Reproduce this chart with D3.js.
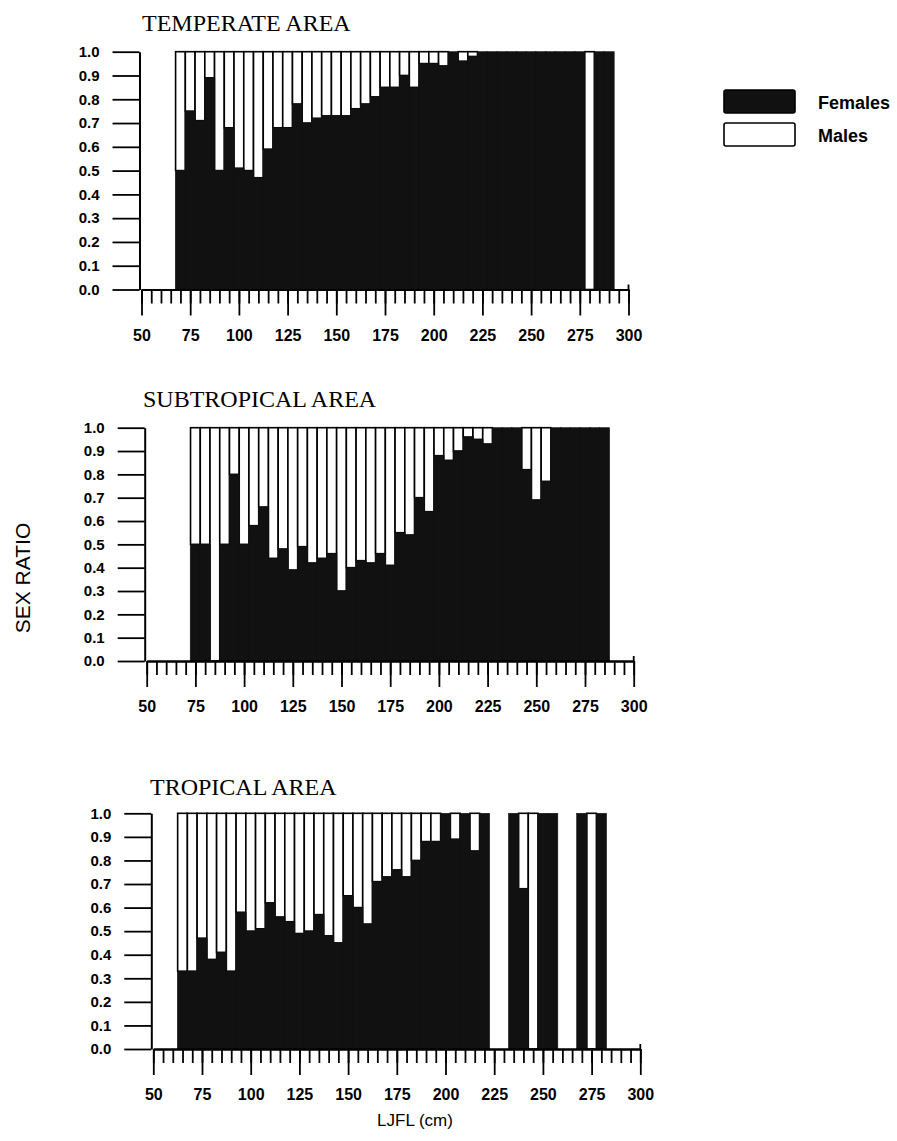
<!DOCTYPE html>
<html>
<head>
<meta charset="utf-8">
<script src="https://cdn.jsdelivr.net/npm/d3@7"></script>
<style>
body{margin:0;background:#fff;}
svg{display:block;}
</style>
</head>
<body>
<div id="graph"></div>
<script>
//data: length classes (LJFL, cm) = bin centres, female share per class (null = no fish)
var lengthClass=[65,70,75,80,85,90,95,100,105,110,115,120,125,130,135,140,145,150,155,160,
  165,170,175,180,185,190,195,200,205,210,215,220,225,230,235,240,245,250,255,260,
  265,270,275,280,285,290];

var temperateFemale=[null,0.50,0.75,0.71,0.89,0.50,0.68,0.51,0.50,0.47,0.59,0.68,0.68,0.78,0.70,0.72,0.73,0.73,0.73,0.76,
  0.78,0.81,0.85,0.85,0.90,0.85,0.95,0.95,0.94,1.00,0.96,0.98,1.00,1.00,1.00,1.00,1.00,1.00,1.00,1.00,
  1.00,1.00,1.00,0,1.00,1.00];

var subtropicalFemale=[null,null,0.50,0.50,0,0.50,0.80,0.50,0.58,0.66,0.44,0.48,0.39,0.49,0.42,0.44,0.46,0.30,0.40,0.43,
  0.42,0.46,0.41,0.55,0.54,0.70,0.64,0.88,0.86,0.90,0.96,0.95,0.93,1.00,1.00,1.00,0.82,0.69,0.77,1.00,
  1.00,1.00,1.00,1.00,1.00,null];

var tropicalFemale=[0.33,0.33,0.47,0.38,0.41,0.33,0.58,0.50,0.51,0.62,0.56,0.54,0.49,0.50,0.57,0.48,0.45,0.65,0.60,0.53,
  0.71,0.73,0.76,0.73,0.80,0.88,0.88,1.00,0.89,1.00,0.84,1.00,null,null,1.00,0.68,0,1.00,1.00,null,
  null,1.00,0,1.00,null,null];

var panelTitles=["TEMPERATE AREA","SUBTROPICAL AREA","TROPICAL AREA"];
var yTickValues=[0,0.1,0.2,0.3,0.4,0.5,0.6,0.7,0.8,0.9,1.0];
var xTickLabels=[50,75,100,125,150,175,200,225,250,275,300];
var legendNames=["Females","Males"];
var legendColors=["#111","#fff"];

var femaleSeries=[temperateFemale,subtropicalFemale,tropicalFemale];

//layout of the three panels (pixels)
var layout=[
  {x0:141.5,top:51.7,bottom:289.5,titleX:142,titleY:31},
  {x0:146.7,top:427.7,bottom:661,titleX:143,titleY:407},
  {x0:153.3,top:813.3,bottom:1049,titleX:150,titleY:795}
];

var width=897, height=1141;
var dark="#111";

var svg=d3.select("div#graph")
          .append("svg")
          .attr("width",width)
          .attr("height",height);

layout.forEach(function(p,k){
  var g=svg.append("g");
  var x=d3.scaleLinear().domain([50,300]).range([p.x0,p.x0+487]);
  var y=d3.scaleLinear().domain([0,1]).range([p.bottom,p.top]);
  var binW=x(55)-x(50);

  var rows=lengthClass.map(function(c,i){return {c:c,f:femaleSeries[k][i]};})
                      .filter(function(d){return d.f!==null;});

  //males (white boxes, top part)
  g.selectAll("rect.male")
    .data(rows.filter(function(d){return d.f<1;}))
    .enter()
    .append("rect")
    .attr("class","male")
    .attr("x",function(d){return x(d.c-2.5);})
    .attr("y",y(1))
    .attr("width",binW)
    .attr("height",function(d){return y(d.f)-y(1);})
    .attr("fill","#fff")
    .attr("stroke","#000")
    .attr("stroke-width",1.6);

  //females (dark, bottom part)
  g.selectAll("rect.female")
    .data(rows.filter(function(d){return d.f>0;}))
    .enter()
    .append("rect")
    .attr("class","female")
    .attr("x",function(d){return x(d.c-2.5)-0.3;})
    .attr("y",function(d){return y(d.f);})
    .attr("width",binW+0.6)
    .attr("height",function(d){return y(0)-y(d.f);})
    .attr("fill",dark)
    .attr("stroke",dark)
    .attr("stroke-width",0.6);

  //y axis
  var yAxis=g.append("g")
    .attr("transform","translate("+(p.x0-2)+",0)")
    .call(d3.axisLeft(y).tickValues(yTickValues).tickSize(27).tickSizeOuter(0)
           .tickPadding(13).tickFormat(d3.format(".1f")));

  //x axis: minor ticks every 5 cm, long ticks with labels every 25 cm
  var xMinor=g.append("g")
    .attr("transform","translate(0,"+p.bottom+")")
    .call(d3.axisBottom(x).tickValues(d3.range(50,301,5)).tickSize(14).tickSizeOuter(0).tickFormat(""));
  var xMajor=g.append("g")
    .attr("transform","translate(0,"+p.bottom+")")
    .call(d3.axisBottom(x).tickValues(xTickLabels).tickSize(26).tickSizeOuter(0).tickPadding(14));

  [yAxis,xMinor,xMajor].forEach(function(a){
    a.select(".domain").attr("stroke","#000").attr("stroke-width",2);
    a.selectAll(".tick line").attr("stroke","#000").attr("stroke-width",1.8);
    a.selectAll("text")
      .attr("fill","#000")
      .style("font-family","'Liberation Sans',Arial,sans-serif")
      .style("font-weight","bold")
      .style("font-size","15px");
  });
  xMajor.selectAll("text").style("font-size","16px");

  //little upward stub at the right end of the x axis
  g.append("line")
    .attr("x1",x(300)).attr("x2",x(300))
    .attr("y1",p.bottom).attr("y2",p.bottom-5)
    .attr("stroke","#000").attr("stroke-width",1.8);

  //title
  g.append("text")
    .attr("x",p.titleX)
    .attr("y",p.titleY)
    .text(panelTitles[k])
    .style("font-family","'Liberation Serif','Times New Roman',serif")
    .style("font-size","24px");
});

//y label
svg.append("text")
  .attr("transform","translate(30,578) rotate(-90)")
  .attr("text-anchor","middle")
  .text("SEX RATIO")
  .style("font-family","'Liberation Sans',Arial,sans-serif")
  .style("font-size","21px");

//x label
svg.append("text")
  .attr("x",415)
  .attr("y",1126)
  .attr("text-anchor","middle")
  .text("LJFL (cm)")
  .style("font-family","'Liberation Sans',Arial,sans-serif")
  .style("font-size","17px");

//legend
var legend=svg.append("g");
legend.selectAll("rect")
  .data(legendNames)
  .enter()
  .append("rect")
  .attr("x",724)
  .attr("y",function(d,i){return 90+i*33;})
  .attr("width",71)
  .attr("height",23)
  .attr("rx",2)
  .attr("fill",function(d,i){return legendColors[i];})
  .attr("stroke","#000")
  .attr("stroke-width",1.6);

legend.selectAll("text")
  .data(legendNames)
  .enter()
  .append("text")
  .attr("x",818)
  .attr("y",function(d,i){return 109+i*33;})
  .text(function(d){return d;})
  .style("font-family","'Liberation Sans',Arial,sans-serif")
  .style("font-weight","bold")
  .style("font-size","18px");
</script>
</body>
</html>
